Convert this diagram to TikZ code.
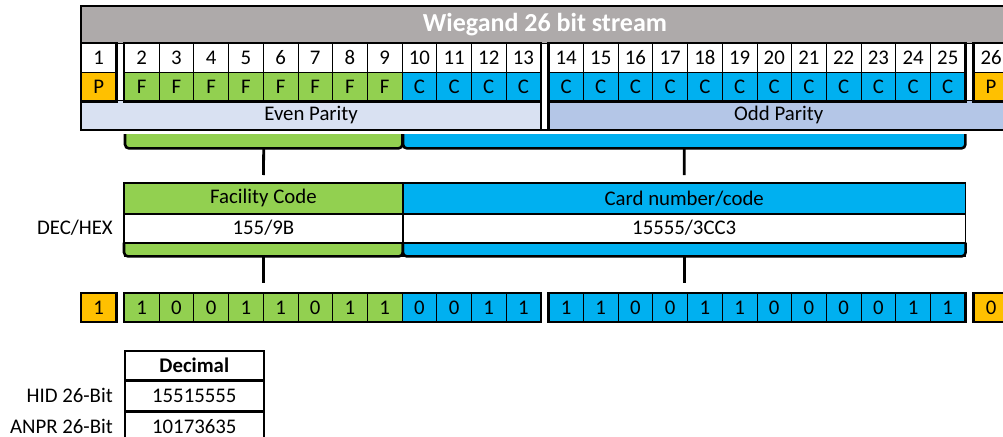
\documentclass[tikz,border=0pt]{standalone}
\usepackage{fontspec}
\setmainfont{Carlito}
\usepackage{xcolor}
\usepackage{tikz}
\usetikzlibrary{
    positioning
}
\definecolor{paritygold}{HTML}{FFC000}
\definecolor{facgreen}{HTML}{92D050}
\definecolor{cardblue}{HTML}{00B0F0}
\definecolor{headgray}{HTML}{AEAAAA}
\definecolor{evenblue}{HTML}{D9E1F2}
\definecolor{oddblue}{HTML}{B4C6E7}
\newcommand{\wgfont}{\fontsize{20.8}{24}\selectfont}
\tikzstyle{cell} = [
    rectangle, draw=black,
    line width=0.8pt,
    minimum width=34.7pt,
    minimum height=28.5pt,
    inner sep=0pt,
    anchor=north west,
    font=\wgfont
]
\tikzstyle{bar} = [
    rectangle, draw=black,
    line width=0.8pt,
    minimum height=29pt,
    inner sep=0pt,
    anchor=north west,
    font=\wgfont
]
\tikzstyle{frame} = [
    line width=2.4pt
]
\tikzstyle{brace} = [
    line width=2.6pt,
    rounded corners=4pt
]
\tikzstyle{stem} = [
    line width=2.8pt
]
\tikzstyle{sidelabel} = [
    inner sep=0pt,
    font=\wgfont
]

\begin{document}
\begin{tikzpicture}[x=1pt, y=-1pt]
    \useasboundingbox (0,0) rectangle (1003,436);

    % stream header
    \node[bar, fill=headgray, minimum width=927pt, minimum height=37pt,
          text=white, font=\bfseries\fontsize{26}{30}\selectfont]
          (title) at (81,6) {Wiegand 26 bit stream};

    \foreach \i in {1,...,26} {
        \pgfmathsetmacro{\xl}{\i==1 ? 81 : (\i<14 ? 124+(\i-2)*34.7 : (\i<26 ? 548.3+(\i-14)*34.7 : 973.3))}
        \node[cell, fill=white] (n\i) at (\xl,43) {\i};
    }
    \node[cell, fill=paritygold, below=0pt of n1] (f1) {P};
    \foreach \i in {2,...,9}
        \node[cell, fill=facgreen, below=0pt of n\i] (f\i) {F};
    \foreach \i in {10,...,25}
        \node[cell, fill=cardblue, below=0pt of n\i] (f\i) {C};
    \node[cell, fill=paritygold, below=0pt of n26] (f26) {P};

    \node[bar, fill=evenblue, minimum width=459.4pt] (even) at (81,100) {Even Parity};
    \node[bar, fill=oddblue, minimum width=460pt] (odd) at (548.3,100) {Odd Parity};

    \draw[frame] (n1.north west) rectangle (f1.south east);
    \draw[frame] (n2.north west) rectangle (f13.south east);
    \draw[frame] (n14.north west) rectangle (f25.south east);
    \draw[frame] (n26.north west) rectangle (f26.south east);
    \draw[frame] (even.north east) -- (even.south east);
    \draw[frame] (odd.north west) -- (odd.south west);
    \draw[frame] (title.north west) rectangle (odd.south east);

    % braces under the stream
    \node[rectangle, fill=facgreen, minimum width=277pt, minimum height=14pt,
          inner sep=0pt, anchor=north west] (fcbrace) at (125,134) {};
    \node[rectangle, fill=cardblue, minimum width=562pt, minimum height=14pt,
          inner sep=0pt, anchor=north west] (cardbrace) at (403,134) {};
    \draw[brace] (fcbrace.north west) -- (fcbrace.south west)
        -- (fcbrace.south east) -- (fcbrace.north east);
    \draw[brace] (cardbrace.north west) -- (cardbrace.south west)
        -- (cardbrace.south east) -- (cardbrace.north east);

    % decoded fields
    \node[bar, fill=facgreen, minimum width=278pt, minimum height=30pt] (fchead) at (124,183) {Facility Code};
    \node[bar, fill=white, minimum width=278pt, minimum height=28pt, below=0pt of fchead] (fcval) {155/9B};
    \node[bar, fill=facgreen, minimum width=278pt, minimum height=13pt, below=0pt of fcval] (fcstrip) {};
    \node[bar, fill=cardblue, minimum width=562pt, minimum height=30pt, right=0pt of fchead] (cardhead) {Card number/code};
    \node[bar, fill=white, minimum width=562pt, minimum height=28pt, below=0pt of cardhead] (cardval) {15555/3CC3};
    \node[bar, fill=cardblue, minimum width=562pt, minimum height=13pt, below=0pt of cardval] (cardstrip) {};
    \draw[line width=1.4pt] (fchead.north west) rectangle (cardval.south east);
    \draw[brace] (fcstrip.north west) -- (fcstrip.south west)
        -- (fcstrip.south east) -- (fcstrip.north east);
    \draw[brace] (cardstrip.north west) -- (cardstrip.south west)
        -- (cardstrip.south east) -- (cardstrip.north east);
    \node[sidelabel, left=11pt of fcval] (dechex) {DEC/HEX};

    \draw[stem, shorten >=8pt] (fcbrace.south) -- (fchead.north);
    \draw[stem, shorten >=8pt] (cardbrace.south) -- (cardhead.north);

    % bit values
    \foreach \b [count=\i] in {1,1,0,0,1,1,0,1,1,0,0,1,1,1,1,0,0,1,1,0,0,0,0,1,1,0} {
        \pgfmathsetmacro{\xl}{\i==1 ? 81 : (\i<14 ? 124+(\i-2)*34.7 : (\i<26 ? 548.3+(\i-14)*34.7 : 973.3))}
        \pgfmathsetmacro{\cl}{\i==1 || \i==26 ? 1 : (\i<10 ? 2 : 3)}
        \ifcase\cl\relax\or
            \node[cell, fill=paritygold, minimum height=28pt] (b\i) at (\xl,293) {\b};
        \or
            \node[cell, fill=facgreen, minimum height=28pt] (b\i) at (\xl,293) {\b};
        \or
            \node[cell, fill=cardblue, minimum height=28pt] (b\i) at (\xl,293) {\b};
        \fi
    }
    \draw[frame] (b1.north west) rectangle (b1.south east);
    \draw[frame] (b2.north west) rectangle (b13.south east);
    \draw[frame] (b14.north west) rectangle (b25.south east);
    \draw[frame] (b26.north west) rectangle (b26.south east);

    \draw[stem, shorten >=10pt] (fcstrip.south) -- (fcstrip.south |- b2.north);
    \draw[stem, shorten >=10pt] (cardstrip.south) -- (cardstrip.south |- b14.north);

    % decimal readings
    \node[bar, draw=black, line width=1.6pt, minimum width=139pt, minimum height=29pt,
          font=\bfseries\wgfont] (dechead) at (124,350) {Decimal};
    \node[bar, line width=1.6pt, minimum width=139pt, minimum height=29pt, below=0pt of dechead] (hidval) {15515555};
    \node[bar, line width=1.6pt, minimum width=139pt, minimum height=29pt, below=0pt of hidval] (anprval) {10173635};
    \node[sidelabel, left=11pt of hidval] (hidlabel) {HID 26-Bit};
    \node[sidelabel, left=11pt of anprval] (anprlabel) {ANPR 26-Bit};
\end{tikzpicture}
\end{document}
